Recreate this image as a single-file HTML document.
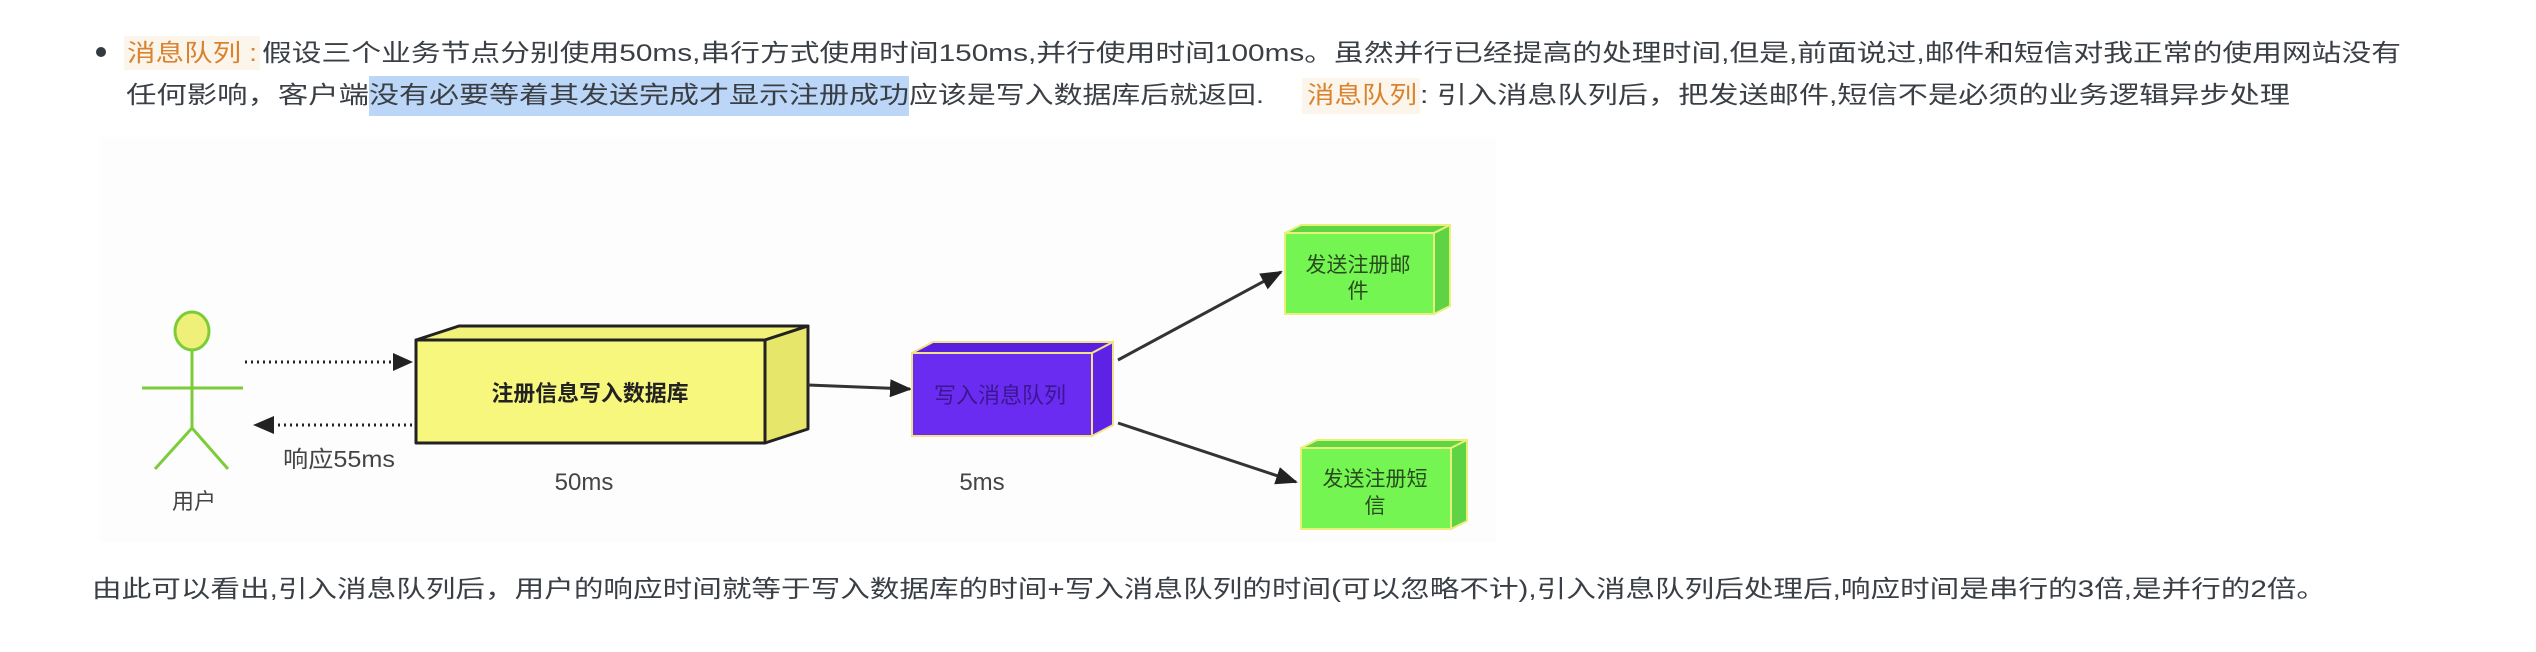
<!DOCTYPE html>
<html><head><meta charset="utf-8"><style>
html,body{margin:0;padding:0;background:#fff;}
svg{display:block;}
text{font-family:"Liberation Sans","Noto Sans CJK SC",sans-serif;}
</style></head><body>
<svg width="2536" height="652" viewBox="0 0 2536 652" xmlns="http://www.w3.org/2000/svg">
<defs>
<marker id="ah" markerWidth="22" markerHeight="18" refX="20" refY="9" orient="auto" markerUnits="userSpaceOnUse" viewBox="0 0 22 18">
<path d="M0,0 L22,9 L0,18 z" fill="#222"/></marker>
</defs>
<circle cx="101" cy="52" r="5" fill="#333a40"/>
<rect x="124" y="36" width="136" height="34" fill="#fcf5ec"/>
<text x="127" y="61" font-size="24" fill="#d9832e" textLength="130" lengthAdjust="spacingAndGlyphs">消息队列 :</text>
<text x="262" y="61" font-size="24" fill="#3a3f45" textLength="2139" lengthAdjust="spacingAndGlyphs">假设三个业务节点分别使用50ms,串行方式使用时间150ms,并行使用时间100ms。虽然并行已经提高的处理时间,但是,前面说过,邮件和短信对我正常的使用网站没有</text>
<rect x="369" y="76" width="540" height="40" fill="#bcd6f7"/>
<text x="126" y="103" font-size="24" fill="#3a3f45" textLength="243" lengthAdjust="spacingAndGlyphs">任何影响，客户端</text>
<text x="369" y="103" font-size="24" fill="#3a3f45" textLength="540" lengthAdjust="spacingAndGlyphs">没有必要等着其发送完成才显示注册成功</text>
<text x="909" y="103" font-size="24" fill="#3a3f45" textLength="355" lengthAdjust="spacingAndGlyphs">应该是写入数据库后就返回.</text>
<rect x="1302" y="78" width="118" height="36" fill="#fcf5ec"/>
<text x="1307" y="103" font-size="24" fill="#d9832e" textLength="110" lengthAdjust="spacingAndGlyphs">消息队列</text>
<text x="1420" y="103" font-size="24" fill="#3a3f45" textLength="870" lengthAdjust="spacingAndGlyphs">: 引入消息队列后，把发送邮件,短信不是必须的业务逻辑异步处理</text>

<rect x="100" y="137" width="1396" height="405" fill="#fdfdfd"/>

<g stroke="#7ccc3a" stroke-width="3" fill="none">
<ellipse cx="192" cy="331" rx="17" ry="19" fill="#eef07a"/>
<line x1="192" y1="350" x2="192" y2="428"/>
<line x1="142" y1="388" x2="243" y2="388"/>
<line x1="192" y1="428" x2="155" y2="469"/>
<line x1="192" y1="428" x2="228" y2="469"/>
</g>
<text x="194" y="509" font-size="22" fill="#444" text-anchor="middle">用户</text>

<line x1="245" y1="362" x2="395" y2="362" stroke="#222" stroke-width="3" stroke-dasharray="2,4"/>
<path d="M393,353 L413,362 L393,371 z" fill="#222"/>
<line x1="272" y1="425" x2="416" y2="425" stroke="#222" stroke-width="3" stroke-dasharray="2,4"/>
<path d="M274,416 L253,425 L274,434 z" fill="#222"/>
<text x="283" y="467" font-size="23" fill="#444" textLength="112" lengthAdjust="spacingAndGlyphs">响应55ms</text>

<g stroke="#222" stroke-width="3" stroke-linejoin="round">
<path d="M416,340 L459,326 L808,326 L765,340 z" fill="#f2f27a"/>
<path d="M765,340 L808,326 L808,429 L765,443 z" fill="#e6e66a"/>
<rect x="416" y="340" width="349" height="103" fill="#f7f77e"/>
</g>
<text x="590" y="401" font-size="22" font-weight="bold" fill="#222" text-anchor="middle" textLength="197" lengthAdjust="spacingAndGlyphs">注册信息写入数据库</text>
<text x="584" y="490" font-size="24" fill="#444" text-anchor="middle">50ms</text>

<line x1="808" y1="385" x2="910" y2="389" stroke="#333" stroke-width="3" marker-end="url(#ah)"/>

<g stroke="#f3e08a" stroke-width="2">
<path d="M912,353 L933,342 L1113,342 L1092,353 z" fill="#5a1ee0"/>
<path d="M1092,353 L1113,342 L1113,425 L1092,436 z" fill="#5e22e6"/>
<rect x="912" y="353" width="180" height="83" fill="#6a2cf0"/>
</g>
<text x="1000" y="403" font-size="22" fill="#3b1690" text-anchor="middle">写入消息队列</text>
<text x="982" y="490" font-size="24" fill="#444" text-anchor="middle">5ms</text>

<line x1="1118" y1="360" x2="1281" y2="272" stroke="#333" stroke-width="3" marker-end="url(#ah)"/>
<line x1="1118" y1="423" x2="1296" y2="482" stroke="#333" stroke-width="3" marker-end="url(#ah)"/>

<g stroke="#e8f07a" stroke-width="2">
<path d="M1285,233 L1301,225 L1450,225 L1434,233 z" fill="#5cd642"/>
<path d="M1434,233 L1450,225 L1450,306 L1434,314 z" fill="#5ed444"/>
<rect x="1285" y="233" width="149" height="81" fill="#74f552"/>
<path d="M1301,448 L1317,440 L1467,440 L1451,448 z" fill="#5cd642"/>
<path d="M1451,448 L1467,440 L1467,521 L1451,529 z" fill="#5ed444"/>
<rect x="1301" y="448" width="150" height="81" fill="#74f552"/>
</g>
<text x="1358" y="272" font-size="21" fill="#2a4a20" text-anchor="middle">发送注册邮</text>
<text x="1358" y="298" font-size="21" fill="#2a4a20" text-anchor="middle">件</text>
<text x="1375" y="486" font-size="21" fill="#2a4a20" text-anchor="middle">发送注册短</text>
<text x="1375" y="513" font-size="21" fill="#2a4a20" text-anchor="middle">信</text>

<text x="92" y="597" font-size="24" fill="#3a3f45" textLength="2234" lengthAdjust="spacingAndGlyphs">由此可以看出,引入消息队列后，用户的响应时间就等于写入数据库的时间+写入消息队列的时间(可以忽略不计),引入消息队列后处理后,响应时间是串行的3倍,是并行的2倍。</text>
</svg>
</body></html>
